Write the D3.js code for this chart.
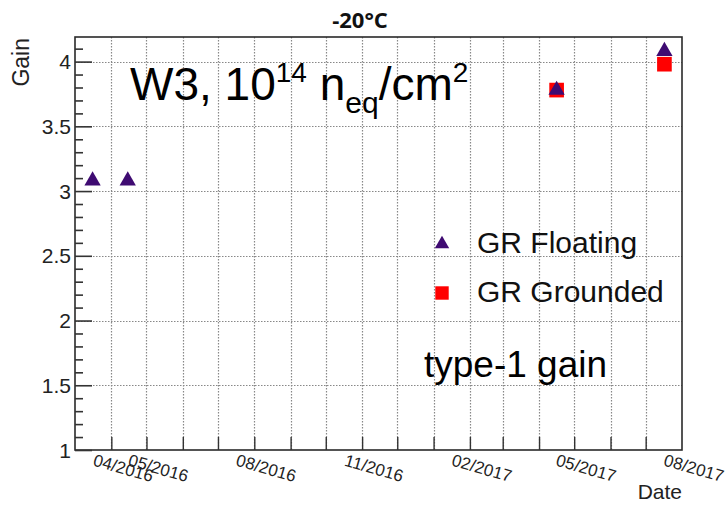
<!DOCTYPE html>
<html>
<head>
<meta charset="utf-8">
<script src="https://cdn.jsdelivr.net/npm/d3@7"></script>
<style>
  html, body { margin: 0; padding: 0; background: #fff; }
  svg { display: block; font-family: "Liberation Sans", Arial, sans-serif; }
</style>
</head>
<body>
<svg id="chart" width="727" height="505"></svg>
<script>
// Gain versus measurement date at -20 °C
const floatingDates = ["2016-03-16", "2016-04-15", "2017-04-16", "2017-07-17"];
const floatingGain  = [3.08, 3.08, 3.78, 4.08];
const groundedDates = ["2017-04-16", "2017-07-17"];
const groundedGain  = [3.78, 3.98];

// Dates carrying a label on the time axis, with their text
const labelMonths = ["2016-04-01", "2016-05-01", "2016-08-01", "2016-11-01", "2017-02-01", "2017-05-01", "2017-08-01"];
const labelTexts  = ["04/2016", "05/2016", "08/2016", "11/2016", "02/2017", "05/2017", "08/2017"];
const yMajorTicks = [1, 1.5, 2, 2.5, 3, 3.5, 4];

const parse = d3.utcParse("%Y-%m-%d");
const svg = d3.select("#chart");

const plotL = 75, plotR = 682, plotT = 37, plotB = 450;
const x = d3.scaleUtc()
  .domain([parse("2016-03-01"), parse("2017-08-01")])
  .range([plotL, plotR]);
const y = d3.scaleLinear().domain([1, 4.19]).range([plotB, plotT]);

const monthTicks = d3.utcMonth.range(parse("2016-04-01"), parse("2017-08-01"));
const minorY = d3.range(11, 42).map(v => v / 10).filter(v => !yMajorTicks.some(m => Math.abs(m - v) < 1e-9));

// Grid
const grid = svg.append("g").attr("stroke", "#888").attr("stroke-width", 1.2).attr("stroke-dasharray", "1.5,1.5");
grid.selectAll("line.v").data(monthTicks).join("line")
  .attr("x1", d => Math.round(x(d)) + 0.5).attr("x2", d => Math.round(x(d)) + 0.5)
  .attr("y1", plotT).attr("y2", plotB);
grid.selectAll("line.h").data(yMajorTicks.filter(v => v > 1)).join("line")
  .attr("x1", plotL).attr("x2", plotR)
  .attr("y1", d => Math.round(y(d)) + 0.5).attr("y2", d => Math.round(y(d)) + 0.5);

// Frame
svg.append("rect").attr("x", plotL).attr("y", plotT).attr("width", plotR - plotL).attr("height", plotB - plotT)
  .attr("fill", "none").attr("stroke", "#2a2a2a").attr("stroke-width", 1.6);

// Y axis ticks drawn inward
const yAxisMajor = d3.axisRight(y).tickValues(yMajorTicks).tickSize(17).tickFormat("");
const yAxisMinor = d3.axisRight(y).tickValues(minorY).tickSize(8).tickFormat("");
[yAxisMajor, yAxisMinor].forEach(ax => {
  const g = svg.append("g").attr("transform", `translate(${plotL},0)`).call(ax);
  g.select(".domain").remove();
  g.selectAll("line").attr("stroke", "#333").attr("stroke-width", 1.6);
});
svg.append("g").selectAll("text").data(yMajorTicks).join("text")
  .attr("x", 71).attr("y", d => y(d)).attr("dy", "0.36em")
  .attr("text-anchor", "end").attr("font-size", 21).attr("fill", "#222")
  .text(d3.format("~g"));

// X axis ticks drawn inward
const xAxis = d3.axisTop(x).tickValues(monthTicks).tickSize(13).tickFormat("");
const gx = svg.append("g").attr("transform", `translate(0,${plotB})`).call(xAxis);
gx.select(".domain").remove();
gx.selectAll("line").attr("stroke", "#333").attr("stroke-width", 1.4);

// Rotated date labels
svg.append("g").selectAll("text").data(labelMonths).join("text")
  .attr("transform", d => `translate(${x(parse(d)) + 12},${468}) rotate(16)`)
  .attr("text-anchor", "middle").attr("dy", "0.35em")
  .attr("font-size", 17).attr("fill", "#222")
  .text((d, i) => labelTexts[i]);

// Axis titles
svg.append("text").attr("transform", "translate(29,38) rotate(-90)")
  .attr("text-anchor", "end").attr("font-size", 23).attr("fill", "#222").text("Gain");
svg.append("text").attr("x", plotR).attr("y", 499)
  .attr("text-anchor", "end").attr("font-size", 21).attr("fill", "#222").text("Date");

// Title
svg.append("text").attr("x", 360).attr("y", 28).attr("text-anchor", "middle")
  .attr("font-family", "'Open Sans', sans-serif").attr("font-weight", "bold")
  .attr("font-size", 22).attr("fill", "#111").text("-20°C");

// Markers
const tri = d3.symbol().type(d3.symbolTriangle).size(115)();
const sq = d3.symbol().type(d3.symbolSquare).size(215)();
const purple = "#3f0b72", red = "#ff0000";

svg.append("g").selectAll("path").data(groundedDates).join("path")
  .attr("d", sq).attr("fill", red)
  .attr("transform", (d, i) => `translate(${x(parse(d))},${y(groundedGain[i])})`);
svg.append("g").selectAll("path").data(floatingDates).join("path")
  .attr("d", tri).attr("fill", purple)
  .attr("transform", (d, i) => `translate(${x(parse(d))},${y(floatingGain[i])})`);

// Legend
svg.append("path").attr("d", d3.symbol().type(d3.symbolTriangle).size(90)()).attr("fill", purple).attr("transform", "translate(442,244)");
svg.append("path").attr("d", d3.symbol().type(d3.symbolSquare).size(180)()).attr("fill", red).attr("transform", "translate(442,293)");
svg.append("text").attr("x", 477).attr("y", 253).attr("font-size", 30).attr("fill", "#111").text("GR Floating");
svg.append("text").attr("x", 477).attr("y", 302).attr("font-size", 30).attr("fill", "#111").text("GR Grounded");

// Annotations
const ann = svg.append("text").attr("x", 130).attr("y", 100).attr("font-size", 46).attr("fill", "#000");
ann.append("tspan").text("W3, 10");
ann.append("tspan").attr("font-size", 28).attr("dy", -18).text("14");
ann.append("tspan").attr("font-size", 46).attr("dy", 18).text(" n");
ann.append("tspan").attr("font-size", 30).attr("dy", 13).text("eq");
ann.append("tspan").attr("font-size", 46).attr("dy", -13).text("/cm");
ann.append("tspan").attr("font-size", 28).attr("dy", -18).text("2");

svg.append("text").attr("x", 424).attr("y", 377).attr("font-size", 37).attr("fill", "#000").text("type-1 gain");
</script>
</body>
</html>
